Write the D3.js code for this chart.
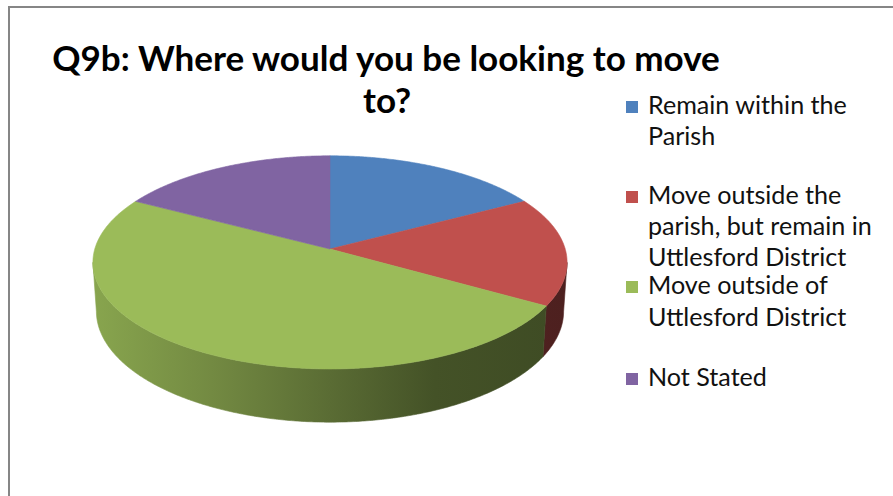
<!DOCTYPE html>
<html>
<head>
<meta charset="utf-8">
<script src="https://cdn.jsdelivr.net/npm/d3@7"></script>
<style>
  html, body { margin: 0; padding: 0; background: #fff; }
  svg { display: block; }
</style>
</head>
<body>
<svg id="chart" width="893" height="496"></svg>
<script>
// Survey answers
const categories = [
  "Remain within the Parish",
  "Move outside the parish, but remain in Uttlesford District",
  "Move outside of Uttlesford District",
  "Not Stated"
];
const values = [17, 16.5, 49.5, 17];
const colors = ["#4f81bd", "#c0504d", "#9bbb59", "#8064a2"];
// Legend text, wrapped as displayed
const legendLines = [
  ["Remain within the", "Parish"],
  ["Move outside the", "parish, but remain in", "Uttlesford District"],
  ["Move outside of", "Uttlesford District"],
  ["Not Stated"]
];
const titleLines = ["Q9b: Where would you be looking to move", "to?"];

const svg = d3.select("#chart");

// Chart area frame
svg.append("rect")
  .attr("x", 9).attr("y", 7).attr("width", 1000).attr("height", 1000)
  .attr("fill", "#fff").attr("stroke", "#868686").attr("stroke-width", 2);

// ---- 3D pie with perspective projection ----
const cx = 330, cy = 249;           // projected pie centre
const K = 1677, D = 7.13;           // focal scale and camera distance (radius units)
const sinT = 0.446, cosT = 0.895;   // tilt of the pie plane
const thick = 0.233;                // pie thickness (radius units)

// angle a: radians clockwise from 12 o'clock; h: 0 = top face, -thick = bottom
function project(a, h, r = 1) {
  const u = r * Math.sin(a), v = r * Math.cos(a);
  const Y = v * sinT + h * cosT;
  const Z = D + v * cosT - h * sinT;
  return [cx + K * u / Z, cy - K * Y / Z];
}

const pie = d3.pie().sort(null).value(d => d)
  .startAngle(0).endAngle(2 * Math.PI);
const arcs = pie(values);

// Visible range of the outer wall (silhouette tangents)
const visA = Math.acos(-cosT / D);
const visB = 2 * Math.PI - visA;

const defs = svg.append("defs");
const xL = project(Math.PI / 2, 0)[0] - 240, xR = project(Math.PI / 2, 0)[0];
arcs.forEach((d, i) => {
  const c = d3.rgb(colors[i]);
  const g = defs.append("linearGradient")
    .attr("id", "side" + i)
    .attr("gradientUnits", "userSpaceOnUse")
    .attr("x1", 93).attr("x2", 567).attr("y1", 0).attr("y2", 0);
  [[0, 0.88], [0.25, 0.74], [0.5, 0.58], [0.72, 0.44], [1, 0.4]].forEach(([o, f]) => {
    g.append("stop").attr("offset", o)
      .attr("stop-color", d3.rgb(c.r * f, c.g * f, c.b * f).formatHex());
  });
});

function range(a0, a1, step) {
  const out = [];
  const n = Math.max(1, Math.ceil((a1 - a0) / step));
  for (let j = 0; j <= n; j++) out.push(a0 + (a1 - a0) * j / n);
  return out;
}

const step = Math.PI / 360;
const gSide = svg.append("g");
const gTop = svg.append("g");

arcs.forEach((d, i) => {
  // outer wall
  const a0 = Math.max(d.startAngle, visA), a1 = Math.min(d.endAngle, visB);
  if (a1 > a0) {
    const angs = range(a0, a1, step);
    const pts = angs.map(a => project(a, 0))
      .concat(angs.slice().reverse().map(a => project(a, -thick)));
    gSide.append("path")
      .attr("d", d3.line()(pts) + "Z")
      .attr("fill", `url(#side${i})`)
      .attr("stroke", `url(#side${i})`).attr("stroke-width", 0.6);
  }
  // top face
  const angs = range(d.startAngle, d.endAngle, step);
  const pts = [project(0, 0, 0)].concat(angs.map(a => project(a, 0)));
  gTop.append("path")
    .attr("d", d3.line()(pts) + "Z")
    .attr("fill", colors[i])
    .attr("stroke", colors[i]).attr("stroke-width", 0.6);
});

// ---- Title ----
const titleFont = "Lato, 'Open Sans', 'DejaVu Sans', sans-serif";
const t1 = svg.append("text")
  .attr("x", 386).attr("y", 71).attr("text-anchor", "middle")
  .attr("font-family", titleFont).attr("font-weight", 700)
  .attr("font-size", 32).attr("fill", "#000").text(titleLines[0]);
const w1 = t1.node().getComputedTextLength();
const titleSize = 32 * 668 / w1;
t1.attr("font-size", titleSize);
svg.append("text")
  .attr("x", 387).attr("y", 113).attr("text-anchor", "middle")
  .attr("font-family", titleFont).attr("font-weight", 700)
  .attr("font-size", titleSize).attr("fill", "#000").text(titleLines[1]);

// ---- Legend ----
const legFont = "Lato, 'Open Sans', 'DejaVu Sans', sans-serif";
const probe = svg.append("text").attr("font-family", legFont)
  .attr("font-size", 22).text("parish, but remain in");
const legSize = 22 * 224 / probe.node().getComputedTextLength();
probe.remove();

const baselines = [[114, 145], [204, 235, 266], [294, 326], [386]];
const gLeg = svg.append("g");
legendLines.forEach((lines, i) => {
  const b0 = baselines[i][0];
  gLeg.append("rect")
    .attr("x", 626).attr("y", b0 - 13).attr("width", 12).attr("height", 12)
    .attr("fill", colors[i]);
  lines.forEach((ln, j) => {
    gLeg.append("text")
      .attr("x", 648).attr("y", baselines[i][j])
      .attr("font-family", legFont).attr("font-size", legSize)
      .attr("fill", "#111").text(ln);
  });
});
</script>
</body>
</html>
